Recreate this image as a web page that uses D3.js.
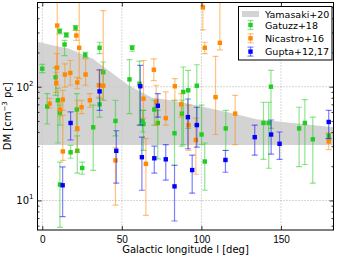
<!DOCTYPE html>
<html>
<head>
<meta charset="utf-8">
<script src="https://cdn.jsdelivr.net/npm/d3@7"></script>
<style>
  body { margin: 0; background: #fff; }
  svg { font-family: "DejaVu Sans", sans-serif; }
</style>
</head>
<body>
<div id="chart"></div>
<script>
// DM vs galactic longitude, three samples + Yamasaki band
// each row: [l (deg), DM, DM low, DM high]
const gatuzz = [
    [0, 144, 133, 157], [10.9, 308, 292, 323], [15.1, 286, 272, 297], [14.0, 235, 188, 255],
    [20.9, 330, 312, 345], [36.0, 220, 195, 246], [27.0, 191, 180, 201], [56.5, 220, 205, 230],
    [8.4, 121, 84, 147], [38.3, 134, 76, 165], [36.0, 70, 54, 79], [3.1, 67, 47, 87],
    [9.8, 76, 32, 97], [11.1, 59, 46, 69], [21.7, 63, 41, 87], [46.0, 50, 37, 76],
    [54.8, 116, 58, 173], [61.1, 106, 46, 168], [70.4, 63, 46, 76], [88.6, 90, 31, 149],
    [91.7, 93, 43, 139], [97.1, 102, 46, 156], [87.7, 58, 30, 76], [83.1, 39, 20.4, 76],
    [100.1, 38, 31, 69], [102.1, 22, 12.3, 32], [115.3, 43, 27.6, 62], [143.7, 100, 43, 139],
    [139.0, 48, 23, 73], [142.3, 48, 19.2, 73], [161.4, 43, 19.8, 66], [165.0, 48, 20.7, 77],
    [170.0, 34.5, 14.2, 54], [180.0, 37, 35, 39], [11.1, 13.8, 5.8, 21.7], [17.8, 26.5, 23.5, 30.5],
    [22.0, 27.3, 17.4, 37], [25.1, 19.3, 17, 21.7], [32.0, 44, 18.4, 69], [63.0, 50, 40, 62],
    [63.6, 47, 27.6, 62], [72.6, 48, 23.2, 62]
];
const nicastro = [
    [9.4, 345, 150, 900], [21.4, 282, 255, 312], [23.2, 220, 118, 800], [9.2, 147, 103, 195],
    [8.8, 108, 89, 134], [14.2, 128, 99, 159], [17.6, 132, 103, 170], [27.2, 128, 103, 176],
    [22.0, 109, 96, 121], [4.6, 71, 65, 79], [12.9, 77, 62, 93], [11.1, 63, 55, 72],
    [24.7, 66, 58, 76], [29.9, 76, 66, 87], [35.6, 103, 81, 139], [38.3, 102, 76, 467],
    [12.9, 27, 22.5, 56], [22.0, 43, 26.5, 76], [46.0, 22.5, 9.1, 29], [65.1, 21, 7.4, 35],
    [63.6, 78.5, 53, 170], [70.1, 141, 113, 176], [71.6, 74, 46, 103], [77.6, 53, 46, 90],
    [83.3, 101, 76, 118], [87.3, 70, 54, 87], [91.9, 46, 27.6, 69], [96.5, 34, 17, 53],
    [100.9, 499, 316, 900], [111.6, 243, 211, 700], [102.1, 220, 195, 246], [108.9, 81, 38, 185],
    [121.2, 58, 31, 84], [180.0, 33, 28, 39]
];
const gupta = [
    [36.0, 91, 62, 141], [61.6, 101, 46, 154], [72.6, 68, 54, 87], [17.8, 48, 34, 60],
    [12.8, 13.6, 7.2, 19.7], [46.5, 27.3, 14.2, 41], [62.6, 24, 12.3, 36], [70.4, 23.5, 17.4, 30],
    [77.6, 23, 15.1, 31], [83.1, 13.3, 6.6, 20.4], [91.5, 54, 28.5, 78], [97.1, 46, 29.4, 66],
    [94.2, 18.5, 11.6, 25], [115.1, 22.7, 17.7, 27.5], [133.5, 36, 25, 46], [143.8, 38, 25.5, 51],
    [149.1, 31.5, 23, 40], [180.0, 49, 35, 62]
];
// Yamasaki+20 band: longitude, upper edge; lower edge is flat
const bandL = [-3, 7, 16.5, 31.6, 39.8, 54.2, 68.7, 80.6, 90.6, 119.5, 134.6, 183];
const bandHi = [249, 230, 217, 177, 145, 103, 80.5, 75.9, 71.5, 58.4, 51.7, 44];
const bandLo = 30.8;

const xTicks = [0, 50, 100, 150];
const yTicks = [10, 100];

const series = [
    {name: "Gatuzz+18", data: gatuzz, color: "#22cc22"},
    {name: "Nicastro+16", data: nicastro, color: "#ff8800"},
    {name: "Gupta+12,17", data: gupta, color: "#0000ff"}
];

const W = 338, H = 257;
const m = {left: 37.5, right: 4.5, top: 2.5, bottom: 27};

const svg = d3.select("#chart").append("svg")
    .attr("width", W)
    .attr("height", H);

const x = d3.scaleLinear().domain([-3, 183]).range([m.left, W - m.right]);
const y = d3.scaleLog().domain([5.5, 550]).range([H - m.bottom, m.top]);

svg.append("clipPath").attr("id", "clip")
    .append("rect")
    .attr("x", m.left).attr("y", m.top)
    .attr("width", W - m.left - m.right)
    .attr("height", H - m.top - m.bottom);

const plot = svg.append("g").attr("clip-path", "url(#clip)");

// grid
plot.selectAll(".gx").data(xTicks).enter().append("line")
    .attr("x1", d => x(d)).attr("x2", d => x(d))
    .attr("y1", m.top).attr("y2", H - m.bottom)
    .attr("stroke", "#999").attr("stroke-width", 0.8).attr("stroke-dasharray", "1,2");
plot.selectAll(".gy").data(yTicks).enter().append("line")
    .attr("x1", m.left).attr("x2", W - m.right)
    .attr("y1", d => y(d)).attr("y2", d => y(d))
    .attr("stroke", "#999").attr("stroke-width", 0.8).attr("stroke-dasharray", "1,2");

// band
const bandData = bandL.map((l, i) => ({l: l, hi: bandHi[i]}));
const area = d3.area()
    .x(d => x(d.l))
    .y0(y(bandLo))
    .y1(d => y(d.hi));
plot.append("path").datum(bandData)
    .attr("d", area)
    .attr("fill", "#c8c8c8")
    .attr("opacity", 0.8);

// error bars + markers
const cap = 3, ms = 4.4;
series.forEach(s => {
    const g = plot.append("g");
    const eb = g.append("g").attr("stroke", s.color).attr("stroke-opacity", 0.5).attr("stroke-width", 1.2);
    s.data.forEach(d => {
        const cx = x(d[0]);
        eb.append("line").attr("x1", cx).attr("x2", cx).attr("y1", y(d[2])).attr("y2", y(d[3]));
        eb.append("line").attr("x1", cx - cap).attr("x2", cx + cap).attr("y1", y(d[2])).attr("y2", y(d[2]));
        eb.append("line").attr("x1", cx - cap).attr("x2", cx + cap).attr("y1", y(d[3])).attr("y2", y(d[3]));
    });
    g.selectAll("rect").data(s.data).enter().append("rect")
        .attr("x", d => x(d[0]) - ms / 2)
        .attr("y", d => y(d[1]) - ms / 2)
        .attr("width", ms).attr("height", ms)
        .attr("fill", s.color);
});

// axes, ticks inside on all four sides
const minor = [];
[1, 10, 100].forEach(dec => { for (let k = 2; k <= 9; k++) minor.push(dec * k); });
const minorY = minor.filter(v => v > 5.5 && v < 550);

const axB = svg.append("g").attr("transform", `translate(0,${H - m.bottom})`)
    .call(d3.axisBottom(x).tickValues(xTicks).tickSizeInner(-4).tickSizeOuter(0).tickPadding(6));
const axT = svg.append("g").attr("transform", `translate(0,${m.top})`)
    .call(d3.axisTop(x).tickValues(xTicks).tickSizeInner(-4).tickSizeOuter(0).tickFormat(""));
const axL = svg.append("g").attr("transform", `translate(${m.left},0)`)
    .call(d3.axisLeft(y).tickValues(yTicks).tickSizeInner(-4).tickSizeOuter(0).tickFormat(""));
const axR = svg.append("g").attr("transform", `translate(${W - m.right},0)`)
    .call(d3.axisRight(y).tickValues(yTicks).tickSizeInner(-4).tickSizeOuter(0).tickFormat(""));
svg.append("g").attr("transform", `translate(${m.left},0)`)
    .call(d3.axisLeft(y).tickValues(minorY).tickSizeInner(-2).tickSizeOuter(0).tickFormat(""));
svg.append("g").attr("transform", `translate(${W - m.right},0)`)
    .call(d3.axisRight(y).tickValues(minorY).tickSizeInner(-2).tickSizeOuter(0).tickFormat(""));

svg.selectAll(".domain").attr("stroke", "none");
svg.selectAll(".tick line").attr("stroke", "#000").attr("stroke-width", 0.8);
axB.selectAll("text").attr("font-size", "10px").attr("fill", "#000");

// y tick labels as 10^n
yTicks.forEach(v => {
    const t = svg.append("text")
        .attr("x", m.left - 4)
        .attr("y", y(v) + 4)
        .attr("text-anchor", "end")
        .attr("font-size", "10px");
    t.append("tspan").text("10");
    t.append("tspan").attr("dy", -5).attr("font-size", "7px").text(Math.round(Math.log10(v)));
});

// frame
svg.append("rect")
    .attr("x", m.left).attr("y", m.top)
    .attr("width", W - m.left - m.right)
    .attr("height", H - m.top - m.bottom)
    .attr("fill", "none").attr("stroke", "#000").attr("stroke-width", 1);

// axis titles
svg.append("text")
    .attr("x", (m.left + W - m.right) / 2)
    .attr("y", H - 4)
    .attr("text-anchor", "middle")
    .attr("font-size", "10px")
    .text("Galactic longitude l [deg]");
const yl = svg.append("text")
    .attr("transform", `translate(11,${(m.top + H - m.bottom) / 2}) rotate(-90)`)
    .attr("text-anchor", "middle")
    .attr("font-size", "10px");
yl.append("tspan").text("DM [cm");
yl.append("tspan").attr("dy", -4).attr("font-size", "7px").text("\u22123");
yl.append("tspan").attr("dy", 4).text(" pc]");

// legend
const lg = svg.append("g");
lg.append("rect")
    .attr("x", 238.5).attr("y", 6.5).attr("width", 93.5).attr("height", 53.5)
    .attr("fill", "#fff").attr("stroke", "#000").attr("stroke-width", 1);
lg.append("rect")
    .attr("x", 242).attr("y", 11).attr("width", 17).attr("height", 6)
    .attr("fill", "#c8c8c8").attr("opacity", 0.8);
lg.append("text").attr("x", 265).attr("y", 17.5).attr("font-size", "9.5px").text("Yamasaki+20");
series.forEach((s, i) => {
    const cy = 25 + i * 13.3, cx = 250.5;
    const e = lg.append("g").attr("stroke", s.color).attr("stroke-opacity", 0.5).attr("stroke-width", 1.2);
    e.append("line").attr("x1", cx).attr("x2", cx).attr("y1", cy - 4.5).attr("y2", cy + 4.5);
    e.append("line").attr("x1", cx - cap).attr("x2", cx + cap).attr("y1", cy - 4.5).attr("y2", cy - 4.5);
    e.append("line").attr("x1", cx - cap).attr("x2", cx + cap).attr("y1", cy + 4.5).attr("y2", cy + 4.5);
    lg.append("rect").attr("x", cx - ms / 2).attr("y", cy - ms / 2)
        .attr("width", ms).attr("height", ms).attr("fill", s.color);
    lg.append("text").attr("x", 265).attr("y", cy + 3.5).attr("font-size", "9.5px").text(s.name);
});
</script>
</body>
</html>
